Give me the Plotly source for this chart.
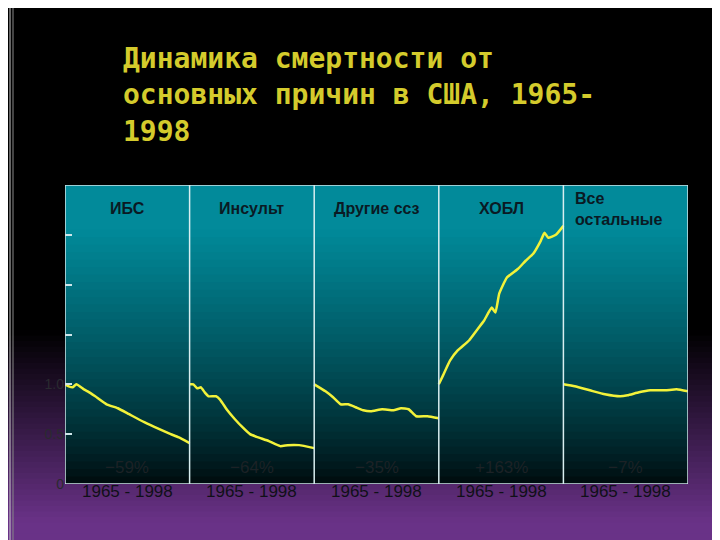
import plotly.graph_objects as go

panels = ["ИБС", "Инсульт", "Другие ссз", "ХОБЛ", "Все<br>остальные"]
changes = ["−59%", "−64%", "−35%", "+163%", "−7%"]
period = "1965 - 1998"
title_lines = ["Динамика смертности от", "основных причин в США, 1965-", "1998"]

ibs_years = [1965, 1966, 1967, 1968, 1970, 1971, 1973, 1976, 1979, 1982, 1986, 1990, 1993, 1995, 1998]
ibs_vals = [1.0, 0.98, 0.97, 1.0, 0.95, 0.93, 0.88, 0.80, 0.76, 0.70, 0.62, 0.55, 0.50, 0.47, 0.41]
ins_years = [1965, 1966, 1967, 1968, 1969, 1970, 1972, 1973, 1975, 1977, 1979, 1981, 1983, 1986, 1989, 1991, 1994, 1998]
ins_vals = [1.0, 1.0, 0.96, 0.97, 0.92, 0.88, 0.88, 0.85, 0.74, 0.65, 0.57, 0.50, 0.47, 0.43, 0.38, 0.39, 0.39, 0.36]
oth_years = [1965, 1968, 1970, 1972, 1974, 1976, 1978, 1980, 1983, 1986, 1988, 1990, 1992, 1995, 1998]
oth_vals = [1.0, 0.93, 0.87, 0.80, 0.80, 0.77, 0.74, 0.73, 0.75, 0.74, 0.76, 0.75, 0.68, 0.68, 0.66]
copd_years = [1965, 1966, 1968, 1970, 1973, 1975, 1977, 1979, 1980, 1981, 1983, 1986, 1988, 1990, 1992, 1993, 1994, 1996, 1998]
copd_vals = [1.0, 1.08, 1.24, 1.34, 1.44, 1.54, 1.64, 1.77, 1.72, 1.91, 2.07, 2.16, 2.24, 2.31, 2.44, 2.52, 2.47, 2.50, 2.59]
rest_years = [1965, 1968, 1972, 1976, 1980, 1982, 1985, 1988, 1992, 1995, 1998]
rest_vals = [1.0, 0.98, 0.94, 0.90, 0.88, 0.89, 0.92, 0.94, 0.94, 0.95, 0.93]

series = [(ibs_years, ibs_vals), (ins_years, ins_vals), (oth_years, oth_vals),
          (copd_years, copd_vals), (rest_years, rest_vals)]

# plot area in page pixels: x 65..688, y 185..484
def px(x): return (x - 65) / 623
def py(y): return (484 - y) / 299

fig = go.Figure()
shapes = []
# page background gradient: black above ~340px, purple towards bottom
N = 40
top, bot = 330, 550
for i in range(N):
    a = top + (bot - top) * i / N
    b = top + (bot - top) * (i + 1) / N
    f = ((a + b) / 2 - top) / (bot - top)
    f = min(1.0, f * 1.15)
    shapes.append(dict(type="rect", xref="paper", yref="paper", layer="below",
                       x0=px(-20), x1=px(740), y0=py(b + 1), y1=py(a),
                       fillcolor=f"rgb({int(105*f)},{int(50*f)},{int(135*f)})", line_width=0))
# plot area teal gradient
for i in range(N):
    y0 = 3 * i / N; y1 = 3 * (i + 1) / N
    t = ((y0 + y1) / 2) / 3
    f = min(1.0, t / 0.85) ** 0.8
    shapes.append(dict(type="rect", xref="x", yref="y", layer="below",
                       x0=0, x1=5, y0=y0, y1=y1 + 0.05,
                       fillcolor=f"rgb({int(0+2*f)},{int(10+128*f)},{int(12+142*f)})", line_width=0))
shapes.append(dict(type="rect", xref="x", yref="y", x0=0, x1=5, y0=0, y1=3,
                   line=dict(color="#cfe6ea", width=1.5)))
for k in range(1, 5):
    shapes.append(dict(type="line", xref="x", yref="y", x0=k, x1=k, y0=0, y1=3,
                       line=dict(color="#d8eef0", width=1.5)))
shapes.append(dict(type="line", xref="paper", yref="paper", x0=px(10), x1=px(10), y0=py(545), y1=py(-5),
                   line=dict(color="#cccccc", width=1)))
shapes.append(dict(type="line", xref="paper", yref="paper", x0=px(13), x1=px(13), y0=py(545), y1=py(-5),
                   line=dict(color="#888888", width=1)))

annotations = []
for k, (yrs, vals) in enumerate(series):
    xs = [k + (y - 1965) / 33 for y in yrs]
    fig.add_trace(go.Scatter(x=xs, y=vals, mode="lines", showlegend=False,
                             line=dict(color="#f2f23a", width=2.5, shape="spline", smoothing=0.4)))
    if k == 4:
        annotations.append(dict(x=k + 0.08, y=2.97, xref="x", yref="y", text="<b>" + panels[k].replace("<br>", "</b><br><b>") + "</b>",
                                showarrow=False, xanchor="left", yanchor="top", align="left",
                                font=dict(family="Liberation Sans", size=16, color="#0a1a24")))
    else:
        annotations.append(dict(x=k + 0.5, y=2.76, xref="x", yref="y", text="<b>" + panels[k] + "</b>", showarrow=False,
                                font=dict(family="Liberation Sans", size=16, color="#0a1a24")))
    annotations.append(dict(x=k + 0.5, y=0.17, xref="x", yref="y", text=changes[k], showarrow=False,
                            font=dict(family="Liberation Sans", size=17, color="#1c2226")))
    annotations.append(dict(x=k + 0.5, y=py(503), xref="x", yref="paper", text=period, showarrow=False,
                            font=dict(family="Liberation Sans", size=17, color="#101018")))

annotations.append(dict(x=px(121), y=py(40), xref="paper", yref="paper",
                        text="<br>".join("<b>" + s + "</b>" for s in title_lines),
                        showarrow=False, xanchor="left", yanchor="top", align="left",
                        font=dict(family="DejaVu Sans Mono", size=28, color="#d4cb2c")))

fig.update_layout(
    width=720, height=540, margin=dict(l=57, r=40, t=177, b=64),
    paper_bgcolor="black", plot_bgcolor="rgba(0,0,0,0)",
    shapes=shapes, annotations=annotations,
    xaxis=dict(range=[0, 5], showgrid=False, zeroline=False, showticklabels=False, ticks=""),
    yaxis=dict(range=[0, 3], showgrid=False, zeroline=False,
               tickvals=[0, 0.5, 1.0, 1.5, 2.0, 2.5], ticktext=["0", "0.5", "1.0", "", "", ""],
               ticks="inside", ticklen=7, tickcolor="#cfe6ea", tickwidth=1.5,
               tickfont=dict(family="Liberation Sans", size=14, color="#2a2a30")),
)
fig.write_html("out.html")
